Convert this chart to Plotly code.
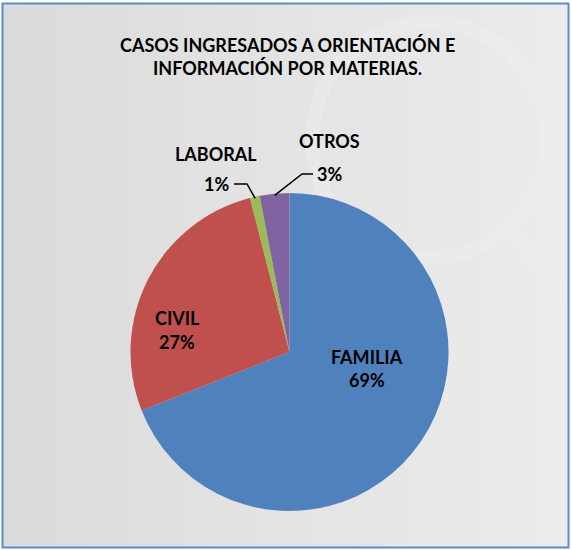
import math
import plotly.graph_objects as go

# ---- data ----
categories = ["FAMILIA", "CIVIL", "LABORAL", "OTROS"]
values = [69, 27, 1, 3]
colors = ["#4f81bd", "#c0504d", "#9bbb59", "#8064a2"]
title_lines = ["CASOS INGRESADOS A ORIENTACIÓN E", "INFORMACIÓN POR MATERIAS."]

W, H = 572, 550
FONT = "Lato"
FS = 18

def px(x):
    return x / W

def py(y):
    return 1 - y / H

# pie geometry (pixels)
cx, cy, R = 289.5, 352.0, 159.0

fig = go.Figure()

fig.add_trace(go.Pie(
    labels=categories,
    values=values,
    marker=dict(colors=colors, line=dict(width=0)),
    sort=False,
    direction="clockwise",
    rotation=0,
    textinfo="none",
    hoverinfo="label+percent",
    showlegend=False,
    domain=dict(x=[px(cx - R), px(cx + R)], y=[py(cy + R), py(cy - R)]),
))

shapes = []
# background gradient (bands)
x0b, x1b, y0b, y1b = 3, 568, 4, 547
nb = 40
for i in range(nb):
    t = i / (nb - 1)
    g = int(round(219 + (236 - 219) * t))
    xa = x0b + (x1b - x0b) * i / nb
    xb = x0b + (x1b - x0b) * (i + 1) / nb + 0.5
    shapes.append(dict(type="rect", xref="paper", yref="paper",
                       x0=px(xa), x1=px(min(xb, x1b)), y0=py(y1b), y1=py(y0b),
                       fillcolor=f"rgb({g},{g},{g})", line=dict(width=0), layer="below"))
# faint watermark ring + handle
shapes.append(dict(type="circle", xref="paper", yref="paper",
                   x0=px(312), x1=px(548), y0=py(258), y1=py(22),
                   line=dict(color="rgba(240,240,246,0.35)", width=14), layer="below"))
shapes.append(dict(type="line", xref="paper", yref="paper",
                   x0=px(515), y0=py(235), x1=px(565), y1=py(300),
                   line=dict(color="rgba(240,240,246,0.3)", width=14), layer="below"))
# border
shapes.append(dict(type="rect", xref="paper", yref="paper",
                   x0=px(2.5), x1=px(568.5), y0=py(547.5), y1=py(3.5),
                   line=dict(color="#5b8bcb", width=2), fillcolor="rgba(0,0,0,0)"))

# leader lines for small slices, start point from slice mid-angle
total = sum(values)
cum = 0
mids = []
for v in values:
    mids.append((cum + v / 2) / total * 2 * math.pi)
    cum += v

def edge_point(idx, rfac=0.99):
    a = mids[idx]
    return cx + R * rfac * math.sin(a), cy - R * rfac * math.cos(a)

leader = {2: [(247, 184), (234, 184)], 3: [(302, 174), (313, 174)]}
for idx, pts in leader.items():
    sx, sy = edge_point(idx)
    path = f"M {px(sx)},{py(sy)} " + " ".join(f"L {px(a)},{py(b)}" for a, b in pts)
    shapes.append(dict(type="path", xref="paper", yref="paper", path=path,
                       line=dict(color="black", width=1.5)))

def txt(s, x, y):
    return dict(text="<b>" + s + "</b>", x=px(x), y=py(y),
                xref="paper", yref="paper", showarrow=False,
                xanchor="center", yanchor="middle",
                font=dict(family=FONT, size=FS, color="black"))

annotations = [txt(title_lines[0], 287, 45), txt(title_lines[1], 287, 68)]

pcts = [f"{round(v / total * 100)}%" for v in values]
label_pos = {0: ((367, 357), (367, 380)),
             1: ((177, 318), (177, 342)),
             2: ((216, 154), (216, 184)),
             3: ((330, 141), (330, 174))}
for i, cat in enumerate(categories):
    (lx, ly), (vx, vy) = label_pos[i]
    annotations.append(txt(cat, lx, ly))
    annotations.append(txt(pcts[i], vx, vy))

fig.update_layout(
    width=W, height=H,
    margin=dict(l=0, r=0, t=0, b=0),
    paper_bgcolor="white",
    plot_bgcolor="white",
    shapes=shapes,
    annotations=annotations,
)

fig.write_html("out.html", config={"displayModeBar": False},
               post_script="document.body.style.margin='0';")
